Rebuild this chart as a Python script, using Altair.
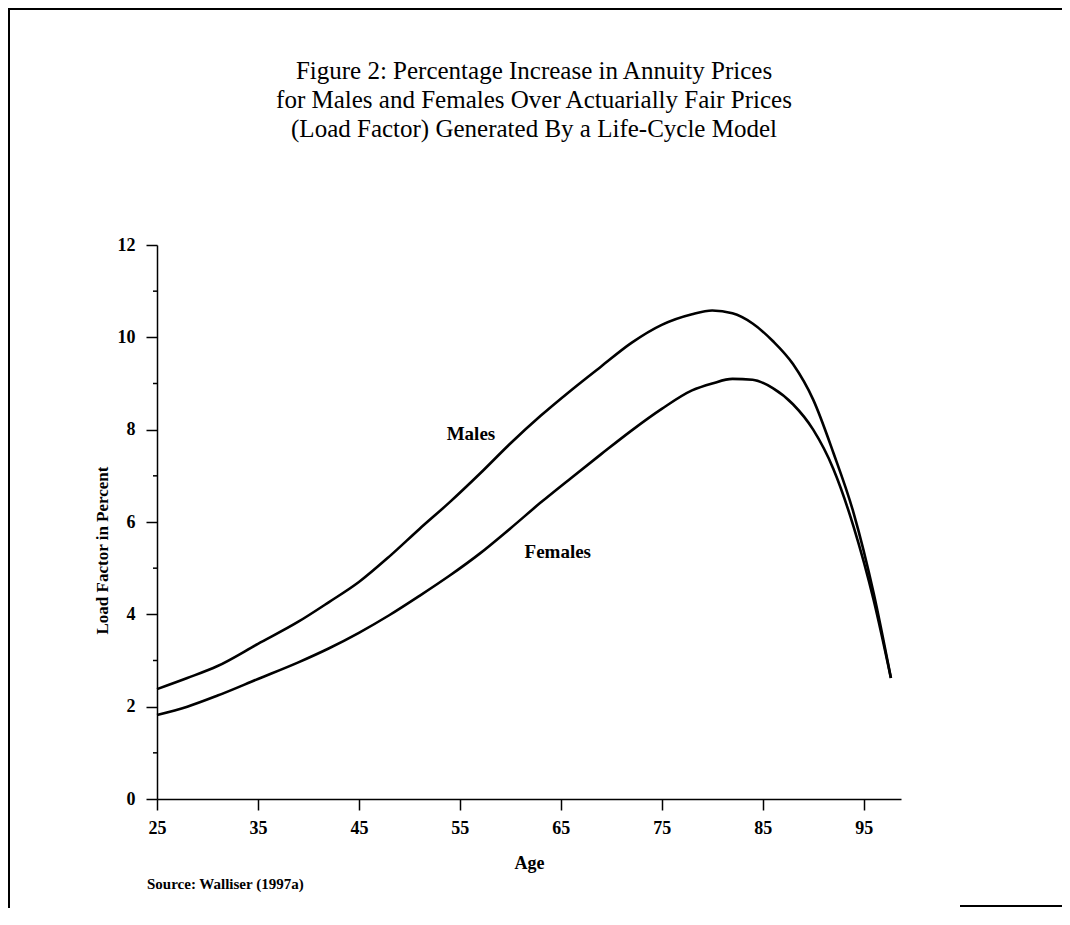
import altair as alt
import pandas as pd

# ---- data ----
ages = [25, 28, 31, 35, 39, 42, 45, 48, 51, 54, 57, 60, 63, 66, 69, 72, 75,
        78, 80, 82, 84, 86, 88, 90, 92, 94, 96, 97.7]
males = [2.38, 2.62, 2.88, 3.36, 3.84, 4.26, 4.70, 5.25, 5.85, 6.43, 7.05,
         7.70, 8.30, 8.85, 9.37, 9.88, 10.27, 10.50, 10.58, 10.52, 10.30,
         9.92, 9.42, 8.65, 7.50, 6.20, 4.45, 2.62]
females = [1.82, 2.00, 2.24, 2.60, 2.96, 3.26, 3.60, 3.98, 4.40, 4.84, 5.32,
           5.86, 6.42, 6.95, 7.47, 7.98, 8.45, 8.85, 9.00, 9.10, 9.08, 8.90,
           8.55, 8.00, 7.15, 5.90, 4.30, 2.62]

series_names = ["Males", "Females"]
label_ages = [56.1, 64.7]
label_values = [7.9, 5.35]

x_ticks = [25, 35, 45, 55, 65, 75, 85, 95]
y_ticks = [0, 2, 4, 6, 8, 10, 12]
y_minor = [1, 3, 5, 7, 9, 11]

title_lines = [
    "Figure 2: Percentage Increase in Annuity Prices",
    "for Males and Females Over Actuarially Fair Prices",
    "(Load Factor) Generated By a Life-Cycle Model",
]
source_text = "Source: Walliser (1997a)"

FONT = "Liberation Serif"

n = len(ages)
df = pd.DataFrame({
    "age": ages + ages,
    "value": males + females,
    "sex": [series_names[0]] * n + [series_names[1]] * n,
})
labels_df = pd.DataFrame({"age": label_ages, "value": label_values, "label": series_names})
minor_df = pd.DataFrame({"v": y_minor})
dummy = pd.DataFrame({"a": [0]})

x_enc = alt.X(
    "age:Q",
    scale=alt.Scale(domain=[25, 98.7], nice=False, zero=False),
    axis=alt.Axis(
        values=x_ticks, title="Age", tickSize=11, labelPadding=9,
        labelFontSize=18, labelFontWeight="bold", labelFlush=False,
        titleFontSize=18, titleFontWeight="bold",
        titleY=69, titleBaseline="alphabetic",
    ),
)
y_enc = alt.Y(
    "value:Q",
    scale=alt.Scale(domain=[0, 12], nice=False),
    axis=alt.Axis(
        values=y_ticks, title="Load Factor in Percent", tickSize=11, labelPadding=11,
        labelFontSize=18, labelFontWeight="bold", labelFlush=False,
        titleFontSize=17, titleFontWeight="bold",
        titleX=-50, titleY=305, titleAngle=270, titleAlign="center",
        titleBaseline="alphabetic",
    ),
)

lines = alt.Chart(df).mark_line(
    color="black", strokeWidth=2.6, interpolate="monotone"
).encode(x=x_enc, y=y_enc, detail="sex:N")

labels = alt.Chart(labels_df).mark_text(
    font=FONT, fontSize=19, fontWeight="bold", color="black",
    align="center", baseline="middle",
).encode(x="age:Q", y="value:Q", text="label:N")

minor = alt.Chart(minor_df).mark_rule(color="black", strokeWidth=1.5).encode(
    y="v:Q", x=alt.value(-4), x2=alt.value(0)
)

source = alt.Chart(pd.DataFrame({"t": [source_text]})).mark_text(
    font=FONT, fontSize=15, fontWeight="bold", color="black",
    align="left", baseline="alphabetic",
).encode(text="t:N", x=alt.value(-10), y=alt.value(644))

title_layers = []
for i, line in enumerate(title_lines):
    title_layers.append(
        alt.Chart(pd.DataFrame({"t": [line]})).mark_text(
            font=FONT, fontSize=25, fontWeight="normal", color="black",
            align="center", baseline="alphabetic",
        ).encode(text="t:N", x=alt.value(377), y=alt.value(-166 + 29 * i))
    )

border_top = alt.Chart(dummy).mark_rule(color="black", strokeWidth=2).encode(
    x=alt.value(-149), x2=alt.value(905), y=alt.value(-236)
)
border_left = alt.Chart(dummy).mark_rule(color="black", strokeWidth=2).encode(
    x=alt.value(-148), y=alt.value(-237), y2=alt.value(663)
)
border_bottom = alt.Chart(dummy).mark_rule(color="black", strokeWidth=2).encode(
    x=alt.value(803), x2=alt.value(905), y=alt.value(661)
)

chart = alt.layer(
    lines, labels, minor, source, *title_layers,
    border_top, border_left, border_bottom
).properties(
    width=744,
    height=554,
    padding={"left": 149, "top": 237, "right": 161, "bottom": 109},
    autosize=alt.AutoSizeParams(type="none"),
    background="white",
).configure_view(stroke=None).configure_axis(
    grid=False, domainColor="black", domainWidth=1.5, tickColor="black",
    tickWidth=1.5, labelColor="black", titleColor="black",
    labelFont=FONT, titleFont=FONT,
)

chart.save("out.html", embed_options={"renderer": "svg", "actions": False})
